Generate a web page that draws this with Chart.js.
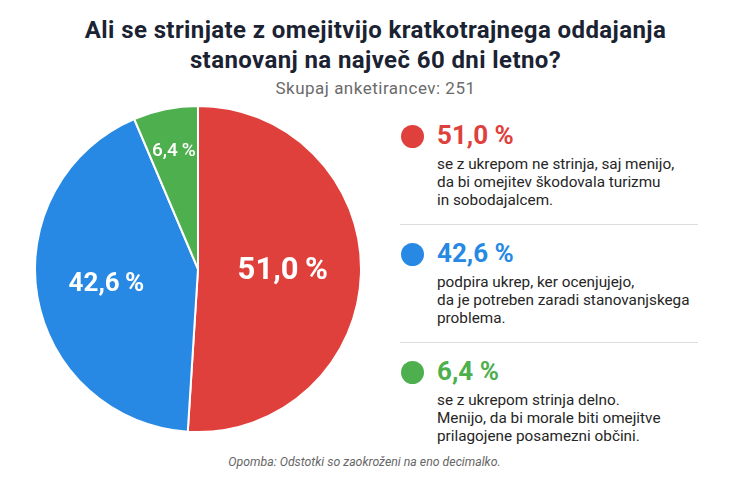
<!DOCTYPE html>
<html>
<head>
<meta charset="utf-8">
<script src="https://cdn.jsdelivr.net/npm/chart.js@4"></script>
<style>
  html, body { margin: 0; padding: 0; background: #fff; }
  body { width: 729px; height: 486px; position: relative; overflow: hidden; font-family: Roboto, sans-serif; }
  #title { position: absolute; left: 11px; width: 729px; top: 15px; text-align: center; font-weight: 700; font-size: 24px; line-height: 30px; letter-spacing: 0.4px; color: #1b2333; }
  #subtitle { position: absolute; left: 11px; width: 729px; top: 77px; line-height: 22px; text-align: center; font-size: 17px; letter-spacing: 0.5px; color: #6b6b6b; }
  #pieBox { position: absolute; left: 33px; top: 104px; width: 330px; height: 330px; }
  #legend { position: absolute; left: 400px; top: 120px; width: 298px; }
  .item { position: relative; padding-left: 37px; }
  .dot { position: absolute; left: 1px; top: 5px; width: 23px; height: 23px; border-radius: 50%; }
  .pct { font-weight: 700; font-size: 26px; line-height: 30px; }
  .desc { font-size: 15.3px; line-height: 18px; color: #262626; margin-top: 5px; }
  .sep { height: 1px; background: #dcdcdc; margin: 15px 0 13px 0; }
  #note { position: absolute; left: 0; width: 729px; top: 455px; text-align: center; font-style: italic; font-size: 12.3px; color: #666; }
</style>
</head>
<body>
<div id="title">Ali se strinjate z omejitvijo kratkotrajnega oddajanja<br>stanovanj na največ 60 dni letno?</div>
<div id="subtitle">Skupaj anketirancev: 251</div>
<div id="pieBox"><canvas id="myChart"></canvas></div>
<div id="legend"></div>
<div id="note">Opomba: Odstotki so zaokroženi na eno decimalko.</div>
<script>
let labels = ['Ne strinja', 'Podpira', 'Delno'];
let values = [51.0, 42.6, 6.4];
let colorHex = ['#E0403C', '#2789E3', '#4DAF4E'];
let descriptions = [
    ['se z ukrepom ne strinja, saj menijo,', 'da bi omejitev škodovala turizmu', 'in sobodajalcem.'],
    ['podpira ukrep, ker ocenjujejo,', 'da je potreben zaradi stanovanjskega', 'problema.'],
    ['se z ukrepom strinja delno.', 'Menijo, da bi morale biti omejitve', 'prilagojene posamezni občini.']
];

// slice label sizes and how far out from the centre they sit
let labelFont = [31, 26, 19];
let labelWeight = ['700', '700', '500'];
let labelDist = [0.52, 0.57, 0.74];

let fmt = (v, sp) => v.toFixed(1).replace('.', ',') + sp + '%';

// right-hand legend
let legend = document.getElementById('legend');
values.forEach((v, i) => {
    if (i > 0) {
        let sep = document.createElement('div');
        sep.className = 'sep';
        legend.appendChild(sep);
    }
    let item = document.createElement('div');
    item.className = 'item';
    item.innerHTML = '<div class="dot" style="background:' + colorHex[i] + '"></div>' +
        '<div class="pct" style="color:' + colorHex[i] + '">' + fmt(v, '\u00A0') + '</div>' +
        '<div class="desc">' + descriptions[i].join('<br>') + '</div>';
    legend.appendChild(item);
});

const sliceLabels = {
    id: 'sliceLabels',
    afterDatasetsDraw(chart) {
        const c = chart.ctx;
        const meta = chart.getDatasetMeta(0);
        meta.data.forEach((arc, i) => {
            const p = arc.getProps(['x', 'y', 'startAngle', 'endAngle', 'outerRadius'], true);
            const mid = (p.startAngle + p.endAngle) / 2;
            const r = p.outerRadius * labelDist[i];
            c.save();
            c.fillStyle = '#fff';
            c.font = labelWeight[i] + ' ' + labelFont[i] + 'px Roboto, sans-serif';
            c.textAlign = 'center';
            c.textBaseline = 'middle';
            c.fillText(fmt(chart.data.datasets[0].data[i], '\u2009'), p.x + Math.cos(mid) * r, p.y + Math.sin(mid) * r);
            c.restore();
        });
    }
};

let ctx = document.getElementById('myChart');
let myChart = new Chart(ctx, {
    type: 'pie',
    data: {
        labels: labels,
        datasets: [{
            data: values,
            backgroundColor: colorHex,
            borderColor: '#fff',
            borderWidth: 2
        }]
    },
    options: {
        responsive: true,
        maintainAspectRatio: false,
        animation: false,
        layout: { padding: 1 },
        plugins: {
            legend: { display: false },
            tooltip: { enabled: false }
        }
    },
    plugins: [sliceLabels]
});
</script>
</body>
</html>
